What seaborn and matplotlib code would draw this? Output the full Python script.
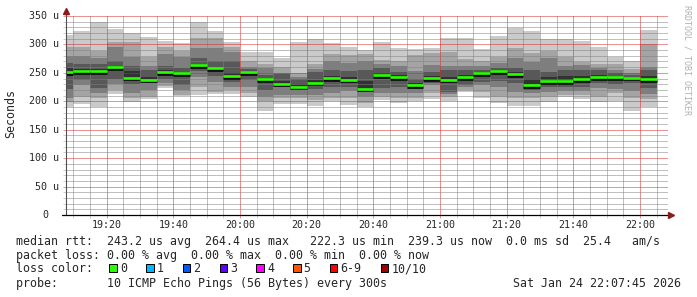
import numpy as np
import pandas as pd
import matplotlib
matplotlib.use("Agg")
import matplotlib.pyplot as plt
import matplotlib.patheffects as pe
from matplotlib.transforms import offset_copy
from matplotlib.patches import Rectangle
import seaborn as sns

# ---------------- data (microseconds) ----------------
# 5-minute intervals starting 19:05 .. 22:00 (minutes after 19:00)
bar_times = pd.date_range("2026-01-24 19:05", periods=36, freq="5min")

ping1 = [190.5, 195, 190.5, 213, 198, 204, 224, 209, 211, 212, 212, 208, 183, 194.7, 194.7, 192.3, 200.5, 194,
         190.5, 202.3, 197.5, 200.5, 204.6, 200, 217, 206.3, 196.4, 192.3, 192.3, 199.3, 208, 204.6, 199.3, 200.5, 183.5, 190.5]
ping2 = [198, 208, 206, 220, 205, 208, 227, 211, 226, 217, 220, 214, 200.5, 205, 205, 202, 205, 205,
         197, 207, 205, 205, 214, 208, 220, 217, 208, 205, 206, 208, 211, 211, 208, 214, 205, 204]
ping3 = [206, 228, 215, 231, 214, 220, 232, 220, 243, 234.5, 225, 225, 208, 211, 211, 211, 214, 218,
         208, 214, 214, 214, 228, 212, 225, 228.6, 225.7, 217, 215, 217, 218, 218, 222.8, 221.6, 218, 212]
ping4 = [222, 237, 223, 240, 230, 231.6, 240, 229, 253, 245, 234.5, 237, 220, 225.7, 221, 222, 226, 226,
         216, 224, 226, 222, 231.6, 217, 228.6, 234.5, 235, 231.6, 220, 226, 226, 226, 232, 230, 231.6, 224]
ping5 = [245, 250, 251, 258, 240, 236, 250, 248, 262, 256, 243, 250, 237, 228, 222, 230, 237, 235,
         220, 243, 240, 226, 237, 234, 240, 247, 250, 245, 226, 235, 232, 236, 240, 240, 240, 236]
ping6 = [258, 256, 256, 262, 253, 243, 255, 252, 266, 260, 250, 253, 241, 236, 230, 238, 245, 242,
         236, 250, 246, 233, 244, 243, 246, 251, 255, 252, 240, 243, 245, 245, 246, 245, 243, 244]
ping7 = [268, 265, 265, 270, 262, 255, 262, 258, 276, 270, 270, 256, 246, 247.5, 240, 252, 255, 253,
         255, 258, 252, 240, 251, 255, 255, 255, 258, 259, 255, 252, 255, 255, 255, 249, 246, 255]
ping8 = [280, 280, 276, 296, 278, 262, 283, 278, 293, 293, 287, 261, 259, 250, 242, 256, 270, 268,
         271, 265, 262, 253, 264, 262, 262, 262, 268, 276.7, 269.6, 276, 262, 263.8, 258, 255, 250, 261]
ping9 = [296, 295, 289, 305, 305, 278, 296, 288, 311, 311, 296, 270, 265, 261, 249, 265, 283, 281,
         283, 272.6, 270, 281, 285.5, 286, 273.8, 271, 278.5, 294.3, 285.5, 288, 278.5, 269.6, 265, 265, 256.8, 300]
ping10 = [316.6, 324, 339, 327, 320.6, 313.6, 306, 302, 339, 323.6, 303.7, 286.7, 286.7, 276.7, 303.7, 309.6, 303, 296,
          290, 304.3, 294.3, 291.4, 294.3, 310.8, 310.8, 291.4, 314.8, 328.9, 323.6, 309.6, 309.6, 306, 296, 278.5, 270.9, 325.4]
median = [252, 253, 253, 260, 241.5, 238, 251, 250, 264, 258, 244.5, 251, 238.6, 231, 225.7, 233, 240.4, 238,
          222.3, 246, 243, 228.6, 240.4, 238, 242.7, 249.7, 253, 248, 228.6, 235.7, 235.7, 239, 242.7, 242.7, 241.5, 239.2]

y_ticks = [0, 50, 100, 150, 200, 250, 300, 350]
x_major = ["19:20", "19:40", "20:00", "20:20", "20:40", "21:00", "21:20", "21:40", "22:00"]

loss_labels = ["0", "1", "2", "3", "4", "5", "6-9", "10/10"]
loss_colors = ["#26ff00", "#00b8ff", "#0059ff", "#5e00ff", "#ff00ff", "#ff5500", "#ff0000", "#a10000"]

stats_line1 = "median rtt:  243.2 us avg  264.4 us max   222.3 us min  239.3 us now  0.0 ms sd  25.4   am/s"
stats_line2 = "packet loss: 0.00 % avg  0.00 % max  0.00 % min  0.00 % now"
probe_line = "probe:       10 ICMP Echo Pings (56 Bytes) every 300s"
date_text = "Sat Jan 24 22:07:45 2026"

# ---------------- figure ----------------
sns.set_theme(style="white")
plt.rcParams['font.family'] = ['DejaVu Sans Mono', 'DejaVu Sans']

W, H = 697, 297
fig = plt.figure(figsize=(W / 100, H / 100), dpi=100)
fig.patch.set_facecolor("white")
ax = fig.add_axes([66 / W, (H - 215) / H, (668 - 66) / W, (215 - 16) / H])
ax.set_facecolor("white")

t0 = pd.Timestamp("2026-01-24 19:00")
x_left = np.array([(t - t0).total_seconds() / 60 for t in bar_times])

pings = np.array([ping1, ping2, ping3, ping4, ping5, ping6, ping7, ping8, ping9, ping10])
shades = ["#cacaca", "#a4a4a4", "#7e7e7e", "#585858", "#323232"]
for i in range(5):
    lo = pings[i]
    hi = pings[9 - i]
    ax.bar(x_left, hi - lo, bottom=lo, width=5, align="edge", color=shades[i],
           linewidth=0, antialiased=False, zorder=1)

# median line segments via seaborn
rows = []
for b, (xl, m) in enumerate(zip(x_left, median)):
    rows.append({"t": xl, "median": m, "bar": b})
    rows.append({"t": xl + 5, "median": m, "bar": b})
df = pd.DataFrame(rows)
n_before = len(ax.lines)
sns.lineplot(data=df, x="t", y="median", units="bar", estimator=None, color="#26ff00",
             lw=1.9, ax=ax, legend=False, zorder=4)
for ln in ax.lines[n_before:]:
    ln.set_solid_capstyle("butt")
    ln.set_path_effects([pe.SimpleLineShadow(offset=(0, -1.3), shadow_color="black", alpha=0.9), pe.Normal()])

ax.set_xlim(7.8, 188.4)
ax.set_ylim(0, 350)
ax.set_xlabel("")
ax.set_ylabel("")

maj_pos = [20 + 20 * i for i in range(len(x_major))]
ax.set_xticks(maj_pos)
ax.set_xticklabels(x_major, fontsize=7.2)
ax.set_xticks(np.arange(10, 188, 5), minor=True)
ax.set_yticks(y_ticks)
ax.set_yticklabels([])
ax.set_yticks(np.arange(0, 351, 10), minor=True)

minor_c = (0.5, 0.5, 0.5, 0.36)
major_c = (0.85, 0.15, 0.15, 0.34)
ax.set_axisbelow(False)
ax.grid(which="minor", color=minor_c, linestyle=(0, (1, 1)), lw=0.72)
ax.grid(which="major", color=major_c, linestyle=(0, (1, 1)), lw=0.72)
ax.tick_params(which="major", direction="out", length=2.2, width=0.72, color="#e0a0a0",
               pad=1.6, labelsize=7.2, left=True, bottom=True)
ax.tick_params(which="minor", direction="out", length=2.2, width=0.72, color="#d0d0d0",
               left=True, bottom=True)
for s in ax.spines.values():
    s.set_visible(False)

# axes lines and arrows
ax.plot([0, 0], [0, 1.02], transform=ax.transAxes, color="#505050", lw=0.8, clip_on=False, zorder=6)
ax.plot([-4 / 602, 1.0], [0, 0], transform=ax.transAxes, color="black", lw=0.9, clip_on=False, zorder=6)
ax.plot([0], [1.027], marker="^", ms=4.2, color="#8b1a1a", transform=ax.transAxes, clip_on=False, zorder=7)
ax.plot([1.005], [0], marker=">", ms=4.2, color="#8b1a1a", transform=ax.transAxes, clip_on=False, zorder=7)

# y tick labels
ytr = ax.get_yaxis_transform()
for v in y_ticks:
    if v == 0:
        tr = offset_copy(ytr, fig=fig, x=-17.5, y=0, units="dots")
        ax.text(0, v, "0", transform=tr, ha="right", va="center", fontsize=7.2)
    else:
        tr = offset_copy(ytr, fig=fig, x=-7.3, y=0, units="dots")
        ax.text(0, v, f"{v} u", transform=tr, ha="right", va="center", fontsize=7.2)

fig.text(10.7 / W, 1 - 114 / H, "Seconds", rotation=90, ha="center", va="center", fontsize=8.4)
fig.text(686.5 / W, 1 - 60 / H, "RRDTOOL / TOBI OETIKER", rotation=270, ha="center", va="center",
         fontsize=6.0, color="#b0b0b0")

# legend / stats
fs = 8.4
fig.text(16 / W, 1 - 241 / H, stats_line1, ha="left", va="center", fontsize=fs)
fig.text(16 / W, 1 - 255 / H, stats_line2, ha="left", va="center", fontsize=fs)
fig.text(16 / W, 1 - 268.5 / H, "loss color:", ha="left", va="center", fontsize=fs)
xs = 109.3
for lab, col in zip(loss_labels, loss_colors):
    fig.add_artist(Rectangle((xs / W, 1 - 271.5 / H), 7.5 / W, 7.5 / H, transform=fig.transFigure,
                             facecolor=col, edgecolor="black", lw=0.72))
    fig.text((xs + 10.7) / W, 1 - 268.5 / H, lab, ha="left", va="center", fontsize=fs)
    xs = xs + 10.7 + len(lab) * 7.05 + 19
fig.text(16 / W, 1 - 283.5 / H, probe_line, ha="left", va="center", fontsize=fs)
fig.text(681 / W, 1 - 283.5 / H, date_text, ha="right", va="center", fontsize=fs)

fig.savefig("out.png", dpi=100, facecolor="white")
